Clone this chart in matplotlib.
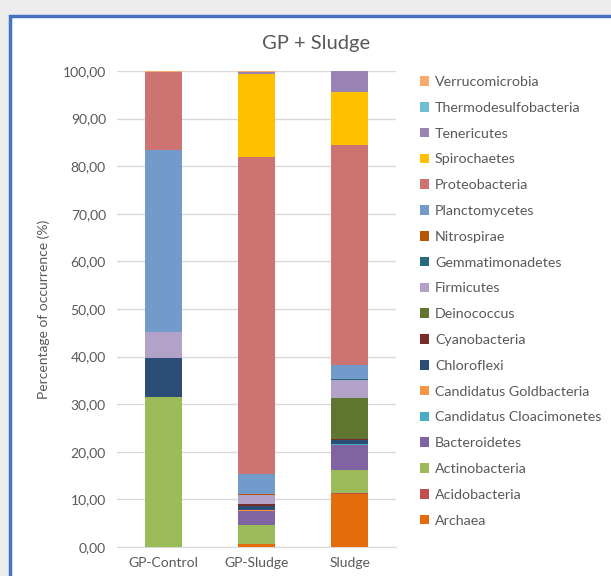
import numpy as np
import matplotlib

matplotlib.use("Agg")
import matplotlib.pyplot as plt
from matplotlib.patches import Rectangle

plt.rcParams["font.family"] = ["Lato", "DejaVu Sans"]

# ---------------------------------------------------------------------------
# Data (percentage of occurrence)
# ---------------------------------------------------------------------------
samples = ["GP-Control", "GP-Sludge", "Sludge"]

phyla = [
    "Archaea", "Acidobacteria", "Actinobacteria", "Bacteroidetes",
    "Candidatus Cloacimonetes", "Candidatus Goldbacteria", "Chloroflexi",
    "Cyanobacteria", "Deinococcus", "Firmicutes", "Gemmatimonadetes",
    "Nitrospirae", "Planctomycetes", "Proteobacteria", "Spirochaetes",
    "Tenericutes", "Thermodesulfobacteria", "Verrucomicrobia",
]

gp_control = [0.0, 0.0, 31.5, 0.0, 0.0, 0.0, 8.2, 0.0, 0.0, 5.5, 0.0,
              0.0, 38.3, 16.3, 0.0, 0.0, 0.0, 0.2]
gp_sludge = [0.6, 0.1, 4.0, 2.9, 0.05, 0.05, 1.0, 0.3, 0.1, 1.8, 0.1,
             0.05, 4.35, 66.6, 17.4, 0.4, 0.05, 0.15]
sludge = [11.1, 0.2, 4.9, 5.3, 0.1, 0.05, 0.85, 0.1, 8.7, 3.8, 0.1,
          0.1, 3.0, 46.1, 11.2, 4.3, 0.0, 0.1]

colors = [
    "#E46C0A", "#C0504D", "#9BBB59", "#8064A2", "#4BACC6", "#F79646",
    "#2C4D75", "#772C2A", "#5F7530", "#B3A2C7", "#276A7C", "#B65708",
    "#729ACA", "#CD7371", "#FFC000", "#9983B5", "#6FBDD1", "#F9AB6B",
]

values = np.array([gp_control, gp_sludge, sludge]).T  # (phyla, samples)

TEXT = "#595959"
GRID = "#D9D9D9"

fig = plt.figure(figsize=(6.11, 5.76), dpi=100, facecolor="#EDEDED")

# white chart frame with blue border (behind the axes)
fig.patches.append(Rectangle((10 / 611, -0.2), 1.2, 1.2 - 16 / 576,
                             transform=fig.transFigure, facecolor="white",
                             edgecolor="#4472C4", linewidth=2.5, zorder=-5))

ax = fig.add_axes([117 / 611, 1 - 547 / 576, (396 - 117) / 611, (547 - 71) / 576])
ax.set_facecolor("none")

x = np.arange(len(samples))
bottom = np.zeros(len(samples))
handles = []
for name, vals, col in zip(phyla, values, colors):
    h = ax.bar(x, vals, width=0.4, bottom=bottom, color=col, label=name, zorder=3)
    handles.append(h)
    bottom += vals

ax.set_xlim(-0.5, 2.5)
ax.set_ylim(0, 100)
ax.set_yticks(np.arange(0, 101, 10))
ax.set_yticklabels([f"{v:.2f}".replace(".", ",") for v in range(0, 101, 10)])
ax.set_xticks(x)
ax.set_xticklabels(samples)
ax.tick_params(length=0, colors=TEXT, labelsize=10)
ax.tick_params(axis="y", pad=8)
ax.tick_params(axis="x", pad=7)
ax.grid(axis="y", color=GRID, linewidth=1, zorder=0)
for s in ["top", "right", "left"]:
    ax.spines[s].set_visible(False)
ax.spines["bottom"].set_color(GRID)

ax.set_ylabel("Percentage of occurrence (%)", color=TEXT, fontsize=10, labelpad=9)

fig.text(316 / 611, 1 - 43 / 576, "GP + Sludge", ha="center", va="center",
         fontsize=14.5, color=TEXT)

leg = fig.legend(handles[::-1], phyla[::-1], loc="upper left",
                 bbox_to_anchor=(420 / 611, 1 - 76 / 576), frameon=False,
                 fontsize=10.3, labelcolor=TEXT, handlelength=0.65,
                 handleheight=0.65, handletextpad=0.4, labelspacing=0.965,
                 borderaxespad=0, borderpad=0)

fig.savefig("out.png", dpi=100, facecolor=fig.get_facecolor())
